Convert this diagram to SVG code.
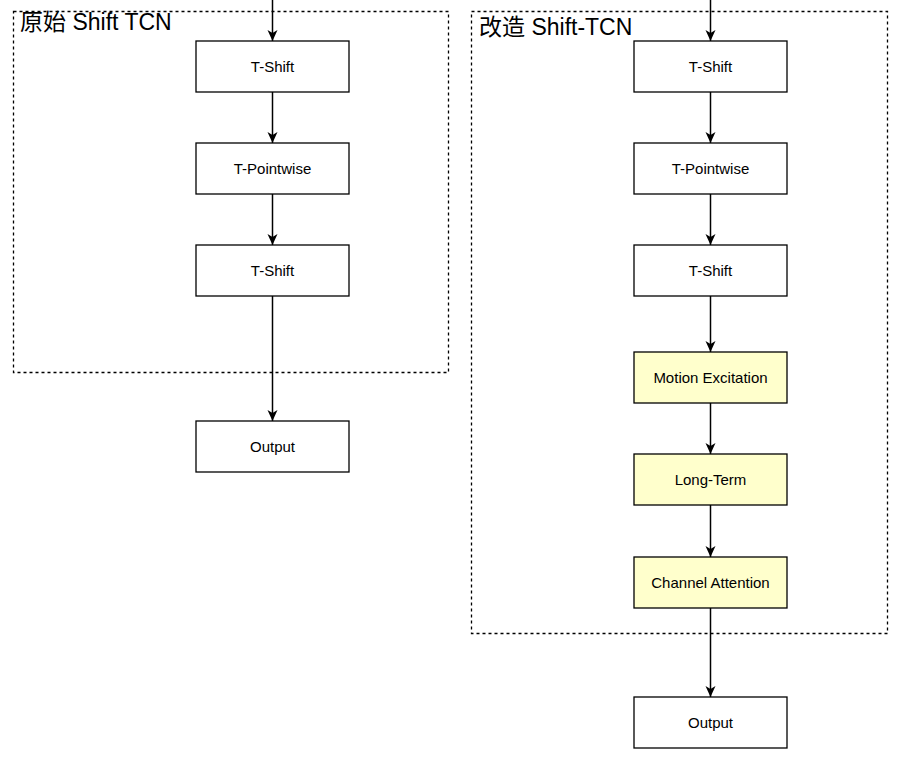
<svg xmlns="http://www.w3.org/2000/svg" width="902" height="759" viewBox="0 0 902 759">
<style>
.grp{fill:none;stroke:#000;stroke-width:1.3;stroke-dasharray:3 3}
.box{fill:#fff;stroke:#000;stroke-width:1.3}
.hl{fill:#ffffcc}
.lbl{font-family:"Liberation Sans",Arial,sans-serif;font-size:15px;fill:#000;text-anchor:middle;dominant-baseline:central}
.ttl{font-family:"Liberation Sans","Noto Sans CJK SC",sans-serif;font-size:23px;fill:#000}
.edge{stroke:#000;stroke-width:1.5;fill:none;marker-end:url(#arr)}
</style>
<defs>
<marker id="arr" markerWidth="14" markerHeight="14" refX="12" refY="7" orient="auto" markerUnits="userSpaceOnUse">
<path d="M1,2 L12,7 L1,12 L4,7 Z" fill="#000"/>
</marker>
</defs>
<g id="group-original">
<rect class="grp" x="13.5" y="11.5" width="435" height="361"/>
<text class="ttl" x="20" y="30">原始 Shift TCN</text>
</g>
<g id="group-modified">
<rect class="grp" x="471.5" y="11.5" width="416" height="622"/>
<text class="ttl" x="479" y="35">改造 Shift-TCN</text>
</g>
<g id="connectors">
<line class="edge" x1="272.5" y1="0" x2="272.5" y2="41"/>
<line class="edge" x1="272.5" y1="92" x2="272.5" y2="143"/>
<line class="edge" x1="272.5" y1="194" x2="272.5" y2="245"/>
<line class="edge" x1="272.5" y1="296" x2="272.5" y2="421"/>
<line class="edge" x1="710.5" y1="0" x2="710.5" y2="41"/>
<line class="edge" x1="710.5" y1="92" x2="710.5" y2="143"/>
<line class="edge" x1="710.5" y1="194" x2="710.5" y2="245"/>
<line class="edge" x1="710.5" y1="296" x2="710.5" y2="352"/>
<line class="edge" x1="710.5" y1="403" x2="710.5" y2="454"/>
<line class="edge" x1="710.5" y1="505" x2="710.5" y2="557"/>
<line class="edge" x1="710.5" y1="608" x2="710.5" y2="697"/>
</g>
<g id="l-tshift1"><rect class="box" x="196" y="41" width="153" height="51"/><text class="lbl" x="272.5" y="66.5">T-Shift</text></g>
<g id="l-tpointwise"><rect class="box" x="196" y="143" width="153" height="51"/><text class="lbl" x="272.5" y="168.5">T-Pointwise</text></g>
<g id="l-tshift2"><rect class="box" x="196" y="245" width="153" height="51"/><text class="lbl" x="272.5" y="270.5">T-Shift</text></g>
<g id="l-output"><rect class="box" x="196" y="421" width="153" height="51"/><text class="lbl" x="272.5" y="446.5">Output</text></g>
<g id="r-tshift1"><rect class="box" x="634" y="41" width="153" height="51"/><text class="lbl" x="710.5" y="66.5">T-Shift</text></g>
<g id="r-tpointwise"><rect class="box" x="634" y="143" width="153" height="51"/><text class="lbl" x="710.5" y="168.5">T-Pointwise</text></g>
<g id="r-tshift2"><rect class="box" x="634" y="245" width="153" height="51"/><text class="lbl" x="710.5" y="270.5">T-Shift</text></g>
<g id="r-motion"><rect class="box hl" x="634" y="352" width="153" height="51"/><text class="lbl" x="710.5" y="377.5">Motion Excitation</text></g>
<g id="r-longterm"><rect class="box hl" x="634" y="454" width="153" height="51"/><text class="lbl" x="710.5" y="479.5">Long-Term</text></g>
<g id="r-channel"><rect class="box hl" x="634" y="557" width="153" height="51"/><text class="lbl" x="710.5" y="582.5">Channel Attention</text></g>
<g id="r-output"><rect class="box" x="634" y="697" width="153" height="51"/><text class="lbl" x="710.5" y="722.5">Output</text></g>
</svg>
